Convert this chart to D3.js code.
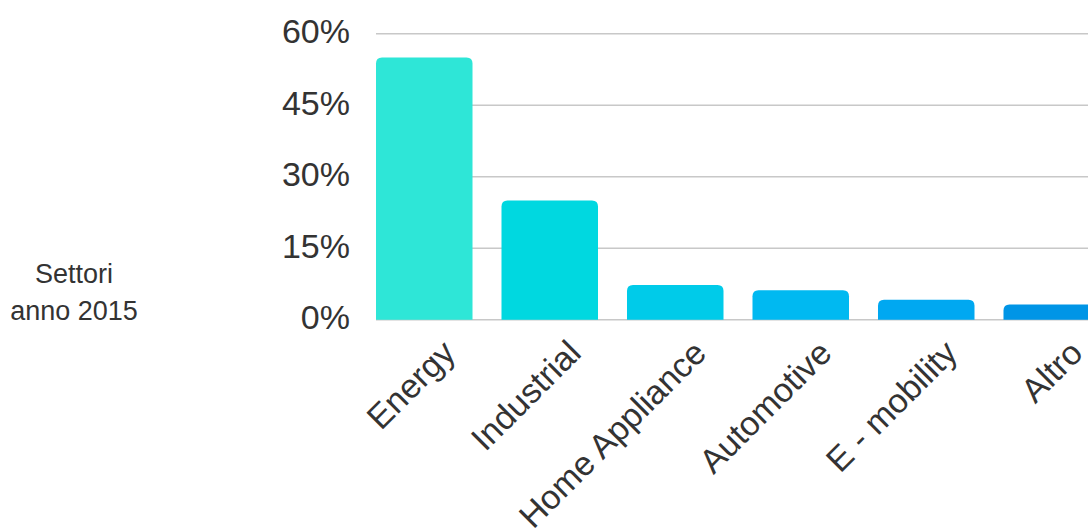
<!DOCTYPE html>
<html>
<head>
<meta charset="utf-8">
<script src="https://cdn.jsdelivr.net/npm/d3@7"></script>
<style>
  html, body { margin: 0; padding: 0; background: #fff; overflow: hidden; }
  svg { display: block; font-family: "Liberation Sans", Arial, sans-serif; }
</style>
</head>
<body>
<svg id="chart" width="1088" height="532"></svg>
<script>
const categories = ["Energy", "Industrial", "Home Appliance", "Automotive", "E - mobility", "Altro"];
const values = [55, 25, 7.3, 6.2, 4.2, 3.2];
const colors = ["#2ee6d7", "#00d8e0", "#00cbe9", "#00b9f1", "#00a8f1", "#0095e6"];
const yTicks = [0, 15, 30, 45, 60];
const titleLines = ["Settori", "anno 2015"];

const svg = d3.select("#chart");

const x = d3.scaleBand()
  .domain(categories)
  .range([376, 1100])
  .paddingInner(0.231)
  .paddingOuter(0);

const y = d3.scaleLinear()
  .domain([0, 60])
  .range([319.7, 33.7]);

// gridlines
svg.append("g")
  .selectAll("line")
  .data(yTicks)
  .join("line")
  .attr("x1", 376)
  .attr("x2", 1100)
  .attr("y1", d => y(d))
  .attr("y2", d => y(d))
  .attr("stroke", "#c8c8c8")
  .attr("stroke-width", 1.6);

// y axis labels
const yAxis = d3.axisLeft(y)
  .tickValues(yTicks)
  .tickFormat(d => d + "%")
  .tickSize(0)
  .tickPadding(0);

const yg = svg.append("g")
  .attr("transform", "translate(350,0)")
  .call(yAxis);
yg.select(".domain").remove();
yg.selectAll("text")
  .attr("font-family", "'Liberation Sans', Arial, sans-serif")
  .attr("font-size", 34)
  .attr("fill", "#333")
  .attr("dy", "0.27em");

// bars with rounded tops
function topRounded(x0, y0, w, h, r) {
  r = Math.min(r, h, w / 2);
  return `M${x0},${y0 + h}V${y0 + r}Q${x0},${y0} ${x0 + r},${y0}H${x0 + w - r}Q${x0 + w},${y0} ${x0 + w},${y0 + r}V${y0 + h}Z`;
}

svg.append("g")
  .selectAll("path")
  .data(categories)
  .join("path")
  .attr("d", (c, i) => topRounded(x(c), y(values[i]), x.bandwidth(), y(0) - y(values[i]), 6))
  .attr("fill", (c, i) => colors[i]);

// x labels
svg.append("g")
  .selectAll("text")
  .data(categories)
  .join("text")
  .attr("transform", c => `translate(${x(c) + x.bandwidth() / 2 + 33},355) rotate(-45)`)
  .attr("text-anchor", "end")
  .attr("font-size", 34)
  .attr("fill", "#333")
  .text(c => c);

// side title
svg.append("text")
  .attr("text-anchor", "middle")
  .attr("font-size", 27)
  .attr("fill", "#333")
  .selectAll("tspan")
  .data(titleLines)
  .join("tspan")
  .attr("x", 74)
  .attr("y", (d, i) => 283 + i * 37)
  .text(d => d);
</script>
</body>
</html>
